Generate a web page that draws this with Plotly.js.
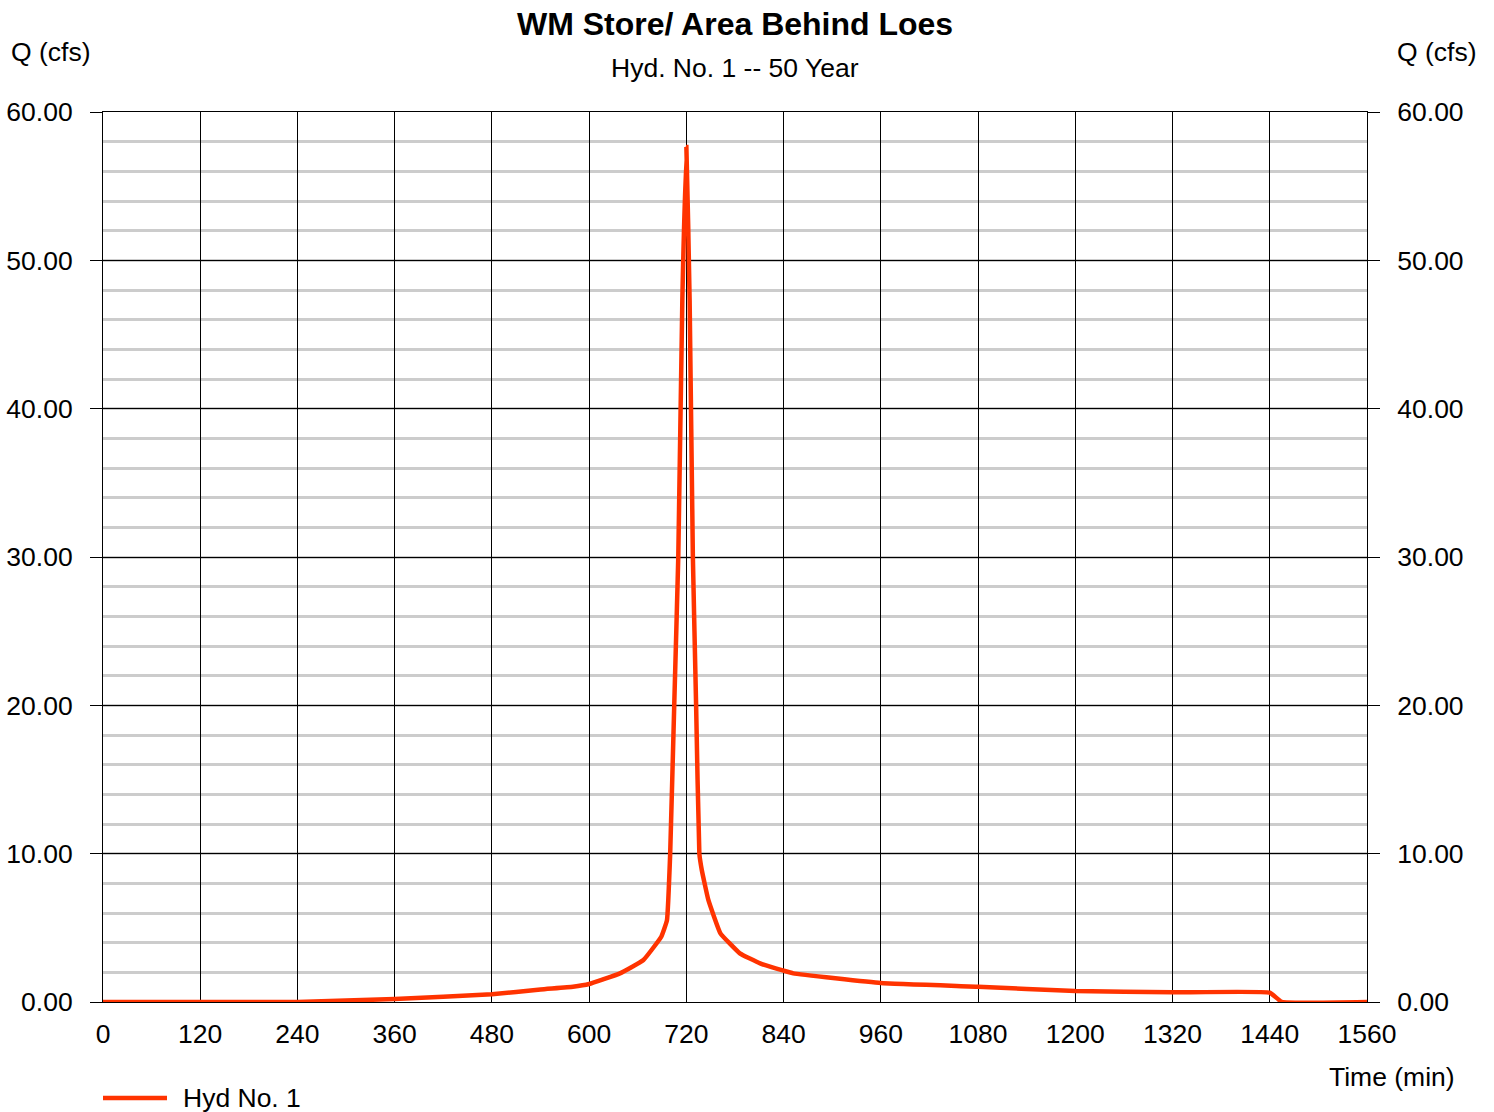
<!DOCTYPE html>
<html>
<head>
<meta charset="utf-8">
<script src="https://cdn.plot.ly/plotly-3.0.1.min.js"></script>
<style>
  html, body { margin: 0; padding: 0; background: #fff; }
  #chart { width: 1494px; height: 1112px; }
</style>
</head>
<body>
<div id="chart"></div>
<script>
// Hydrograph: discharge Q (cfs) against time (min)
const timeMin = [0, 240, 360, 480, 540, 580, 600, 638, 667, 689, 696, 700, 705, 710, 715, 720,
                 724, 728, 732, 736, 739, 747, 762, 786, 811, 840, 852, 960, 1080, 1200, 1320, 1440, 1455, 1560];
const flowCfs = [0, 0, 0.20, 0.52, 0.85, 1.03, 1.21, 1.93, 2.83, 4.4, 5.5, 10.0, 20.0, 30.0, 47.3, 57.64,
                 47.3, 30.0, 20.0, 10.0, 8.9, 6.9, 4.63, 3.28, 2.6, 2.11, 1.93, 1.28, 1.03, 0.74, 0.65, 0.63, 0, 0];

const xTicks = [0, 120, 240, 360, 480, 600, 720, 840, 960, 1080, 1200, 1320, 1440, 1560];
const yTicks = [0, 10, 20, 30, 40, 50, 60];

const seriesName = "Hyd No. 1";
const FONT = "Liberation Sans, Arial, sans-serif";
const TXT = 26.5;
const lineColor = "#ff3300";
const lineWidth = 4.5;

const traces = [
  {
    x: timeMin, y: flowCfs,
    type: "scatter", mode: "lines",
    name: seriesName,
    showlegend: false,
    line: { color: lineColor, width: lineWidth, shape: "spline", smoothing: 0.3 },
    hoverinfo: "x+y"
  },
  // companion trace so the right-hand axis is drawn
  { x: [0], y: [0], yaxis: "y2", type: "scatter", mode: "lines",
    showlegend: false, hoverinfo: "skip", line: { width: 0 }, opacity: 0 }
];

const yCommon = {
  range: [0, 60],
  tickvals: yTicks,
  tickformat: ".2f",
  ticks: "outside",
  ticklen: 12,
  tickwidth: 1,
  tickcolor: "#000",
  ticklabelstandoff: 12,
  tickfont: { family: FONT, size: TXT, color: "#000" },
  zeroline: false,
  fixedrange: true
};

const layout = {
  width: 1494, height: 1112,
  margin: { l: 103, r: 127, t: 112, b: 110, autoexpand: false },
  paper_bgcolor: "#fff",
  plot_bgcolor: "#fff",
  font: { family: FONT, color: "#000" },
  showlegend: false,
  xaxis: {
    range: [0, 1560],
    tickvals: xTicks,
    ticks: "",
    ticklabelstandoff: 8,
    tickfont: { family: FONT, size: TXT, color: "#000" },
    showgrid: true, gridcolor: "#000", gridwidth: 1,
    showline: true, linecolor: "#000", linewidth: 1, mirror: true,
    zeroline: false,
    fixedrange: true
  },
  yaxis: Object.assign({}, yCommon, {
    side: "left",
    showgrid: true, gridcolor: "#000", gridwidth: 1,
    showline: true, linecolor: "#000", linewidth: 1,
    minor: { dtick: 2, showgrid: true, gridcolor: "#cccccc", gridwidth: 2.5, ticks: "" }
  }),
  yaxis2: Object.assign({}, yCommon, {
    overlaying: "y",
    matches: "y",
    side: "right",
    showgrid: false,
    showline: true, linecolor: "#000", linewidth: 1
  }),
  title: {
    text: "<b>WM Store/ Area Behind Loes</b>",
    font: { family: FONT, size: 32, color: "#000" },
    x: 0.492, xanchor: "center",
    y: 0.979, yanchor: "middle"
  },
  annotations: [
    { text: "Hyd. No. 1 -- 50 Year", xref: "paper", yref: "paper", x: 0.5, y: 1.0, yshift: 44,
      xanchor: "center", yanchor: "middle", showarrow: false,
      font: { family: FONT, size: TXT, color: "#000" } },
    { text: "Q (cfs)", xref: "paper", yref: "paper", x: 0, xshift: -94, y: 1.0, yshift: 60,
      xanchor: "left", yanchor: "middle", showarrow: false,
      font: { family: FONT, size: TXT, color: "#000" } },
    { text: "Q (cfs)", xref: "paper", yref: "paper", x: 1, xshift: 112, y: 1.0, yshift: 60,
      xanchor: "right", yanchor: "middle", showarrow: false,
      font: { family: FONT, size: TXT, color: "#000" } },
    { text: "Time (min)", xref: "paper", yref: "paper", x: 1, xshift: 90, y: 0, yshift: -75,
      xanchor: "right", yanchor: "middle", showarrow: false,
      font: { family: FONT, size: TXT, color: "#000" } },
    { text: seriesName, xref: "paper", yref: "paper", x: 0, xshift: 78, y: 0, yshift: -96,
      xanchor: "left", yanchor: "middle", showarrow: false,
      font: { family: FONT, size: TXT, color: "#000" } }
  ],
  // Legend swatch: a short line in the series colour, anchored to the plot's lower-left corner
  shapes: [
    { type: "line", xref: "paper", yref: "paper",
      xsizemode: "pixel", xanchor: 0, x0: 0, x1: 64,
      ysizemode: "pixel", yanchor: 0, y0: -96, y1: -96,
      line: { color: lineColor, width: lineWidth } }
  ]
};

Plotly.newPlot("chart", traces, layout, { displayModeBar: false, responsive: false });
</script>
</body>
</html>
